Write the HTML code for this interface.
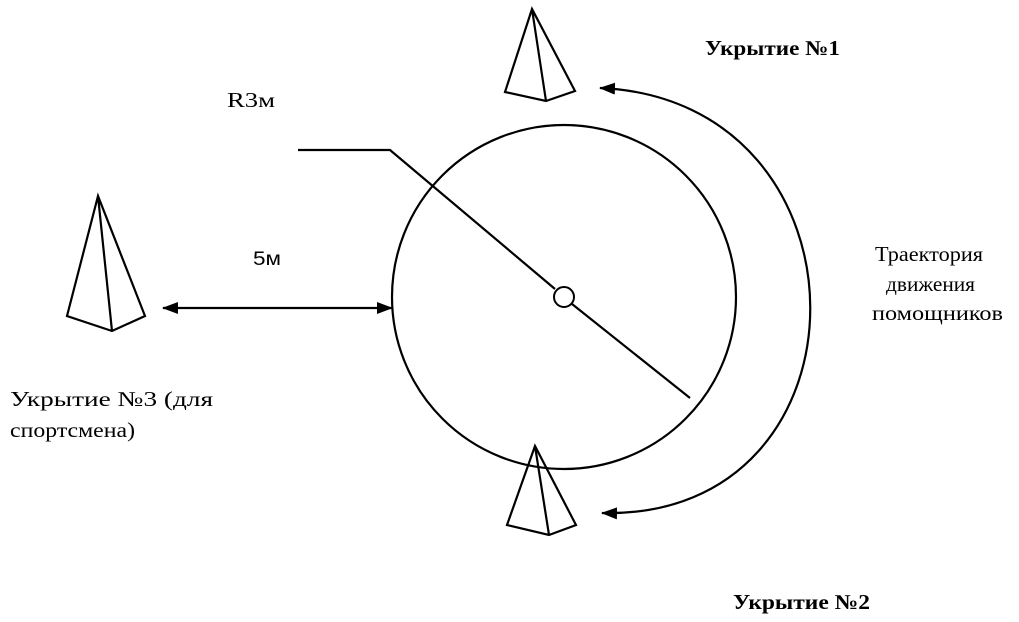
<!DOCTYPE html>
<html><head><meta charset="utf-8"><style>body{margin:0;background:#fff}svg{display:block}</style></head><body>
<svg width="1019" height="622" viewBox="0 0 1019 622" xmlns="http://www.w3.org/2000/svg">
<defs>
<marker id="b" markerWidth="16" markerHeight="12" refX="15" refY="6" orient="auto-start-reverse" markerUnits="userSpaceOnUse"><path d="M0,0 L16,6 L0,12z" fill="#000"/></marker></defs>
<g fill="none" stroke="#000" stroke-width="2.2">
<path d="M532,9 L505,92 L546,101 L575,91 Z M532,9 L546,101"/>
<path d="M535,446 L507,525 L549,535 L576,525 Z M535,446 L549,535"/>
<path d="M98,196 L67,316 L112,331 L145,316 Z M98,196 L112,331"/>
<circle cx="564" cy="297" r="172"/>
<circle cx="564" cy="297" r="10" stroke-width="2"/>
<path d="M298,150 L390,150 L555,289 M572,304 L690,398"/>
<path d="M600,88 C880,100 880,520 602,513" marker-end="url(#b)" marker-start="url(#b)"/>
<path d="M163,308 L392,308" marker-end="url(#b)" marker-start="url(#b)"/>
</g>
<g font-family="Liberation Serif, serif" font-size="21" fill="#000">
<text x="705" y="55" textLength="135" lengthAdjust="spacingAndGlyphs" font-weight="bold">Укрытие №1</text>
<text x="227" y="107" textLength="48" lengthAdjust="spacingAndGlyphs">R3м</text>
<text x="875" y="261" textLength="108" lengthAdjust="spacingAndGlyphs">Траектория</text>
<text x="886" y="291" textLength="89" lengthAdjust="spacingAndGlyphs">движения</text>
<text x="872" y="320" textLength="131" lengthAdjust="spacingAndGlyphs">помощников</text>
<text x="10" y="406" textLength="203" lengthAdjust="spacingAndGlyphs">Укрытие №3 (для</text>
<text x="10" y="437" textLength="125" lengthAdjust="spacingAndGlyphs">спортсмена)</text>
<text x="733" y="609" textLength="137" lengthAdjust="spacingAndGlyphs" font-weight="bold">Укрытие №2</text>
</g>
<text x="253" y="265" font-family="Liberation Sans, sans-serif" font-size="19" textLength="28" lengthAdjust="spacingAndGlyphs">5м</text>
</svg>
</body></html>
